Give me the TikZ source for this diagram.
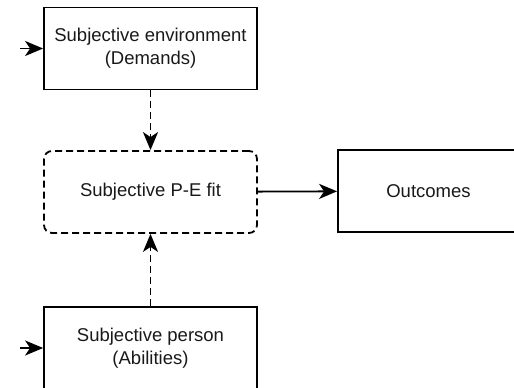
\documentclass[tikz,border=0pt]{standalone}
\usepackage{fontspec}
\setmainfont{Liberation Sans}
\usetikzlibrary{arrows.meta}

\begin{document}
\begin{tikzpicture}[x=1pt, y=-1pt,
    every node/.style ={font=\fontsize{18.5}{23}\selectfont, text=black!90},
    block/.style ={rectangle, draw, line width=1.8pt, minimum width=213pt,
                   minimum height=82pt, align=center, inner sep=0pt},
    fitbox/.style ={block, dashed, dash pattern=on 7pt off 4pt, rounded corners=8pt},
    link/.style ={line width=1.8pt, -{Stealth[length=18pt, width=15pt, inset=5pt]}}]
   \useasboundingbox (0,0) rectangle (514,388);

   \node[block] (env) at (150.5,48.5) {Subjective environment\\(Demands)};
   \node[fitbox] (fit) at (150.5,192) {Subjective P-E fit};
   \node[block, minimum width=181pt] (out) at (428.5,191) {Outcomes};
   \node[block] (per) at (150.5,348) {Subjective person\\(Abilities)};
   \coordinate (envin) at (20,48.5);
   \coordinate (perin) at (20,348);

   \draw[link] (envin) to (env);
   \draw[link] (perin) to (per);
   \draw[link, dash pattern=on 7pt off 4pt] (env) to (fit);
   \draw[link, dash pattern=on 7pt off 4pt] (per) to (fit);
   \draw[link] (fit) to (out);
\end{tikzpicture}
\end{document}
